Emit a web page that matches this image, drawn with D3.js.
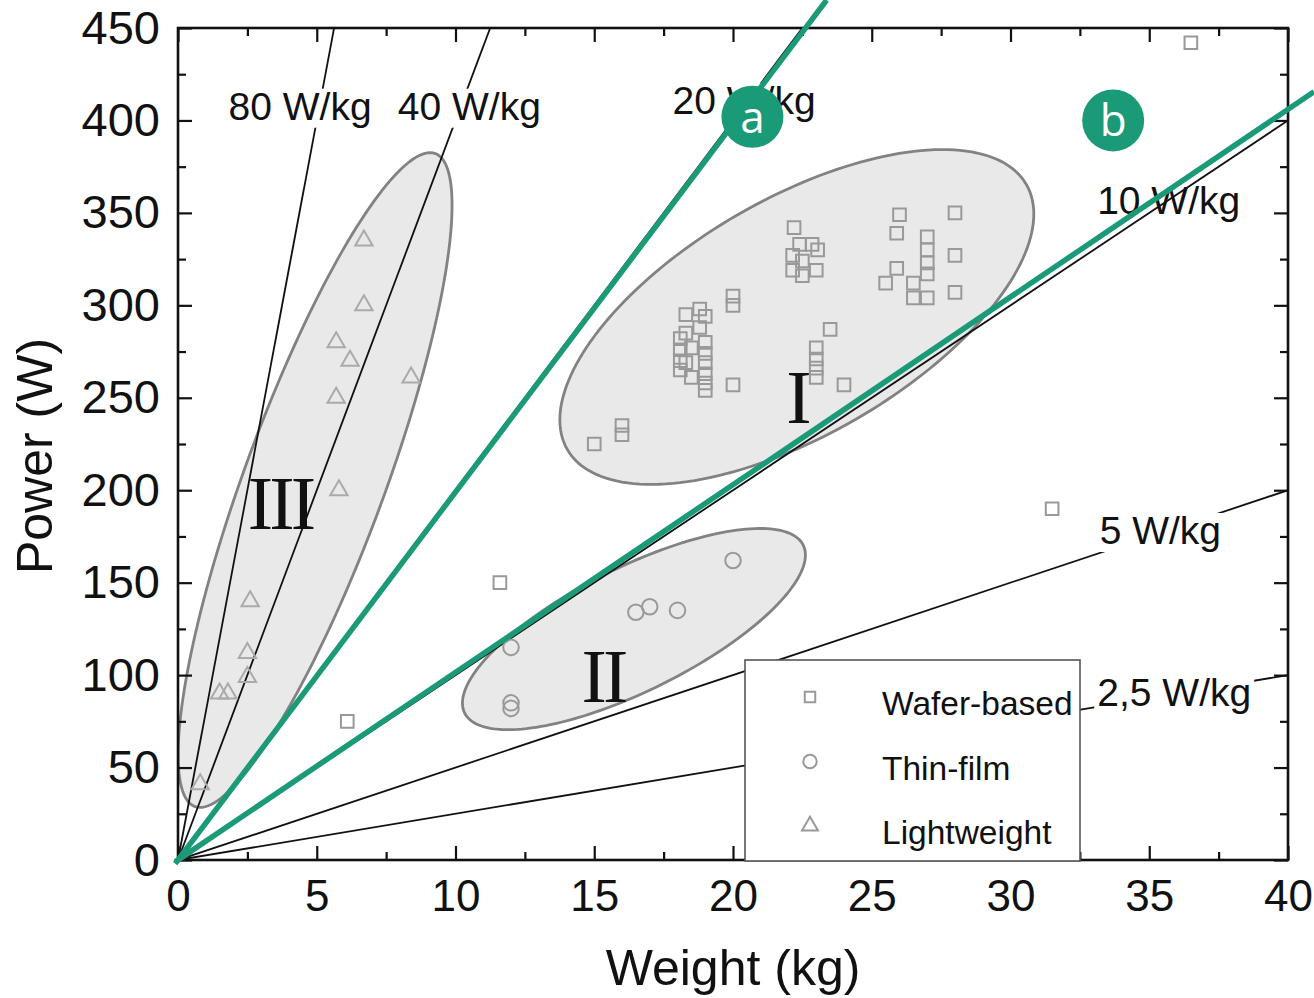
<!DOCTYPE html>
<html>
<head>
<meta charset="utf-8">
<script src="https://cdn.jsdelivr.net/npm/d3@7"></script>
<style>
  body { margin: 0; background: #fff; }
  svg { display: block; font-family: "Liberation Sans", Arial, sans-serif; }
</style>
</head>
<body>
<svg id="chart"></svg>
<script>
// axis ticks
const weightTicks = [0, 5, 10, 15, 20, 25, 30, 35, 40];
const powerTicks = [0, 50, 100, 150, 200, 250, 300, 350, 400, 450];

// specific power reference lines (W/kg)
const ratios = [80, 40, 20, 10, 5, 2.5];
const ratioLabels = ['80 W/kg', '40 W/kg', '20 W/kg', '10 W/kg', '5 W/kg', '2,5 W/kg'];
const ratioLabelAt = [[4.4, 408], [10.5, 408], [20.4, 411], [35.7, 357], [35.4, 178.5], [35.9, 91]];
const ratioGap = [true, true, true, false, true, true];

// measured modules [weight kg, power W]
const waferBased = [
  [36.5, 442], [31.5, 190], [11.6, 150], [6.1, 75],
  [15.0, 225], [16.0, 235], [16.0, 230],
  [20.0, 305], [20.0, 300], [20.0, 257],
  [23.5, 287], [24.0, 257],
  [23.0, 277], [23.0, 271], [23.0, 266], [23.0, 261],
  [22.2, 342], [22.4, 333], [22.85, 333], [23.05, 330], [22.15, 327],
  [22.5, 324], [23.0, 319], [22.15, 319], [22.5, 316],
  [26.0, 349], [28.0, 350], [25.9, 339], [27.0, 337], [27.0, 330],
  [27.0, 323], [27.0, 317], [25.9, 320], [25.5, 312], [26.5, 312],
  [26.5, 304], [27.0, 304], [28.0, 327], [28.0, 307],
  [18.1, 282], [18.1, 276], [18.1, 270], [18.1, 265],
  [18.3, 295], [18.3, 285], [18.3, 269],
  [18.5, 277], [18.5, 261],
  [18.8, 298], [18.8, 288],
  [19.0, 294], [19.0, 280], [19.0, 274], [19.0, 269],
  [19.0, 263], [19.0, 258], [19.0, 254]
];
const thinFilm = [[20, 162], [16.5, 134], [17, 137], [18, 135], [12, 115], [12, 85], [12, 82]];
const lightweight = [
  [6.7, 335], [6.7, 300], [5.7, 280], [6.2, 270], [5.7, 250], [8.4, 261],
  [5.8, 200], [2.6, 140], [2.5, 112], [2.5, 99], [1.5, 90], [1.8, 90], [0.8, 41]
];

// grouped regions: centre and conjugate half-axes in data units
const regionNames = ['I', 'II', 'III'];
const regionCenter = [[22.3, 293.7], [16.43, 124.9], [4.94, 205.5]];
const regionMajor = [[8.27, 71.7], [6.10, 45.4], [4.33, 176.6]];
const regionMinor = [[2.13, -55.3], [0.99, -30.0], [2.37, -13.1]];
const regionLabelAt = [[22.31, 249.9], [15.32, 99.0], [3.68, 192.5]];

const legendNames = ['Wafer-based', 'Thin-film', 'Lightweight'];

// highlighted lines a and b
const highlightNames = ['a', 'b'];
const highlightSlope = [19.9, 10.15];
const highlightBadgeAt = [[20.7, 402], [33.7, 400]];

const W = 1314, H = 998;
const pLeft = 178, pTop = 28, pRight = 1288, pBottom = 860;
const green = '#1b9a78';

const svg = d3.select('#chart').attr('width', W).attr('height', H);

const x = d3.scaleLinear().domain([0, 40]).range([pLeft, pRight]);
const y = d3.scaleLinear().domain([0, 450]).range([pBottom, pTop]);

svg.append('defs').append('clipPath').attr('id', 'plot')
  .append('rect').attr('x', pLeft).attr('y', pTop)
  .attr('width', pRight - pLeft).attr('height', pBottom - pTop);

const plot = svg.append('g').attr('clip-path', 'url(#plot)');

// regions
const ellipse = (c, u, v) => d3.range(0, 181).map(i => {
  const t = i / 180 * 2 * Math.PI;
  return [c[0] + u[0] * Math.cos(t) + v[0] * Math.sin(t),
          c[1] + u[1] * Math.cos(t) + v[1] * Math.sin(t)];
});
const line = d3.line().x(d => x(d[0])).y(d => y(d[1])).curve(d3.curveLinearClosed);

plot.selectAll('.region')
  .data(regionNames)
  .enter().append('path')
  .attr('class', 'region')
  .attr('d', (d, i) => line(ellipse(regionCenter[i], regionMajor[i], regionMinor[i])))
  .attr('fill', '#e9e9e9')
  .attr('stroke', '#828282')
  .attr('stroke-width', 2.8);

// reference lines
const ratioEnd = r => (450 / r <= 40 ? [450 / r, 450] : [40, 40 * r]);
plot.selectAll('.ratio')
  .data(ratios)
  .enter().append('line')
  .attr('class', 'ratio')
  .attr('x1', x(0)).attr('y1', y(0))
  .attr('x2', r => x(ratioEnd(r)[0]))
  .attr('y2', r => y(ratioEnd(r)[1]))
  .attr('stroke', '#111')
  .attr('stroke-width', 1.8);

const labels = svg.append('g');
ratioLabels.forEach((t, i) => {
  const g = labels.append('g');
  const txt = g.append('text')
    .attr('x', x(ratioLabelAt[i][0]))
    .attr('y', y(ratioLabelAt[i][1]))
    .attr('dy', '0.36em')
    .attr('text-anchor', 'middle')
    .attr('font-size', 39)
    .attr('fill', '#111')
    .text(t);
  if (ratioGap[i]) {
    const b = txt.node().getBBox();
    g.insert('rect', 'text')
      .attr('x', b.x - 3).attr('y', b.y + 4)
      .attr('width', b.width + 6).attr('height', b.height - 4)
      .attr('fill', '#fff');
  }
});

// data points
const pts = svg.append('g').attr('fill', 'none').attr('stroke', '#999').attr('stroke-width', 2);
const square = d3.symbol(d3.symbolSquare, 160);
const circle = d3.symbol(d3.symbolCircle, 190);
const triangle = d3.symbol(d3.symbolTriangle, 130);

pts.selectAll('.wafer').data(waferBased).enter().append('path')
  .attr('d', square).attr('transform', d => `translate(${x(d[0])},${y(d[1])})`);
pts.selectAll('.thin').data(thinFilm).enter().append('path')
  .attr('d', circle).attr('transform', d => `translate(${x(d[0])},${y(d[1])})`);
pts.selectAll('.light').data(lightweight).enter().append('path')
  .attr('d', triangle).attr('stroke', '#aaa')
  .attr('transform', d => `translate(${x(d[0])},${y(d[1])})`);

// roman numerals
svg.append('g').selectAll('text')
  .data(regionNames)
  .enter().append('text')
  .attr('x', (d, i) => x(regionLabelAt[i][0]))
  .attr('y', (d, i) => y(regionLabelAt[i][1]))
  .attr('dy', '0.33em')
  .attr('text-anchor', 'middle')
  .attr('font-family', '"Liberation Serif", serif')
  .attr('font-size', 76)
  .attr('letter-spacing', '-0.05em')
  .attr('fill', '#111')
  .text(d => d);

// axes, ticks inward on all four sides
const minor = d3.range(2.5, 40, 5);
const minorY = d3.range(25, 450, 50);
const ax = svg.append('g').attr('font-family', '"Liberation Sans", Arial, sans-serif');

ax.append('g').attr('transform', `translate(0,${pBottom})`)
  .call(d3.axisBottom(x).tickValues(weightTicks).tickSize(-14).tickPadding(20))
  .call(g => g.selectAll('text').attr('font-size', 44).attr('fill', '#111'));
ax.append('g').attr('transform', `translate(0,${pBottom})`)
  .call(d3.axisBottom(x).tickValues(minor).tickSize(-8).tickFormat(''));
ax.append('g').attr('transform', `translate(0,${pTop})`)
  .call(d3.axisTop(x).tickValues(weightTicks).tickSize(-14).tickFormat(''));
ax.append('g').attr('transform', `translate(0,${pTop})`)
  .call(d3.axisTop(x).tickValues(minor).tickSize(-8).tickFormat(''));
ax.append('g').attr('transform', `translate(${pLeft},0)`)
  .call(d3.axisLeft(y).tickValues(powerTicks).tickSize(-14).tickPadding(18))
  .call(g => g.selectAll('text').attr('font-size', 47).attr('fill', '#111'));
ax.append('g').attr('transform', `translate(${pLeft},0)`)
  .call(d3.axisLeft(y).tickValues(minorY).tickSize(-8).tickFormat(''));
ax.append('g').attr('transform', `translate(${pRight},0)`)
  .call(d3.axisRight(y).tickValues(powerTicks).tickSize(-14).tickFormat(''));
ax.append('g').attr('transform', `translate(${pRight},0)`)
  .call(d3.axisRight(y).tickValues(minorY).tickSize(-8).tickFormat(''));
ax.selectAll('.domain').remove();
ax.selectAll('.tick line').attr('stroke', '#111').attr('stroke-width', 2.2);

svg.append('rect')
  .attr('x', pLeft).attr('y', pTop)
  .attr('width', pRight - pLeft).attr('height', pBottom - pTop)
  .attr('fill', 'none').attr('stroke', '#111').attr('stroke-width', 2.6);

svg.append('text')
  .attr('transform', 'rotate(-90)')
  .attr('x', -(pTop + pBottom) / 2 - 12).attr('y', 52)
  .attr('text-anchor', 'middle').attr('font-size', 50).attr('fill', '#111')
  .text('Power (W)');
svg.append('text')
  .attr('x', x(20)).attr('y', 985)
  .attr('text-anchor', 'middle').attr('font-size', 50).attr('fill', '#111')
  .text('Weight (kg)');

// legend
const lg = svg.append('g').attr('transform', 'translate(745,660)');
lg.append('rect').attr('width', 335).attr('height', 201)
  .attr('fill', '#fff').attr('stroke', '#555').attr('stroke-width', 1.6);
const shapes = [square, circle, triangle];
legendNames.forEach((n, i) => {
  lg.append('path')
    .attr('d', shapes[i].size([110, 140, 110][i]))
    .attr('transform', `translate(65,${37 + i * 64.5})`)
    .attr('fill', 'none').attr('stroke', '#999').attr('stroke-width', 2);
  lg.append('text')
    .attr('x', 137).attr('y', 43 + i * 64.5)
    .attr('dy', '0.36em')
    .attr('font-size', 33.5).attr('fill', '#111')
    .text(n);
});

// highlighted green lines
const hl = svg.append('g');
highlightSlope.forEach((s, i) => {
  const yTop = y.invert(0);
  const xEnd = Math.min(yTop / s, x.invert(W));
  hl.append('line')
    .attr('x1', x(-0.1)).attr('y1', y(-0.1 * s))
    .attr('x2', x(xEnd)).attr('y2', y(xEnd * s))
    .attr('stroke', green).attr('stroke-width', 5.5);
});
highlightNames.forEach((n, i) => {
  const g = hl.append('g')
    .attr('transform', `translate(${x(highlightBadgeAt[i][0])},${y(highlightBadgeAt[i][1])})`);
  g.append('circle').attr('r', 31).attr('fill', green);
  g.append('text')
    .attr('text-anchor', 'middle').attr('dy', '0.36em')
    .attr('font-family', '"Open Sans", sans-serif')
    .attr('font-size', 44).attr('fill', '#fff')
    .text(n);
});
</script>
</body>
</html>
